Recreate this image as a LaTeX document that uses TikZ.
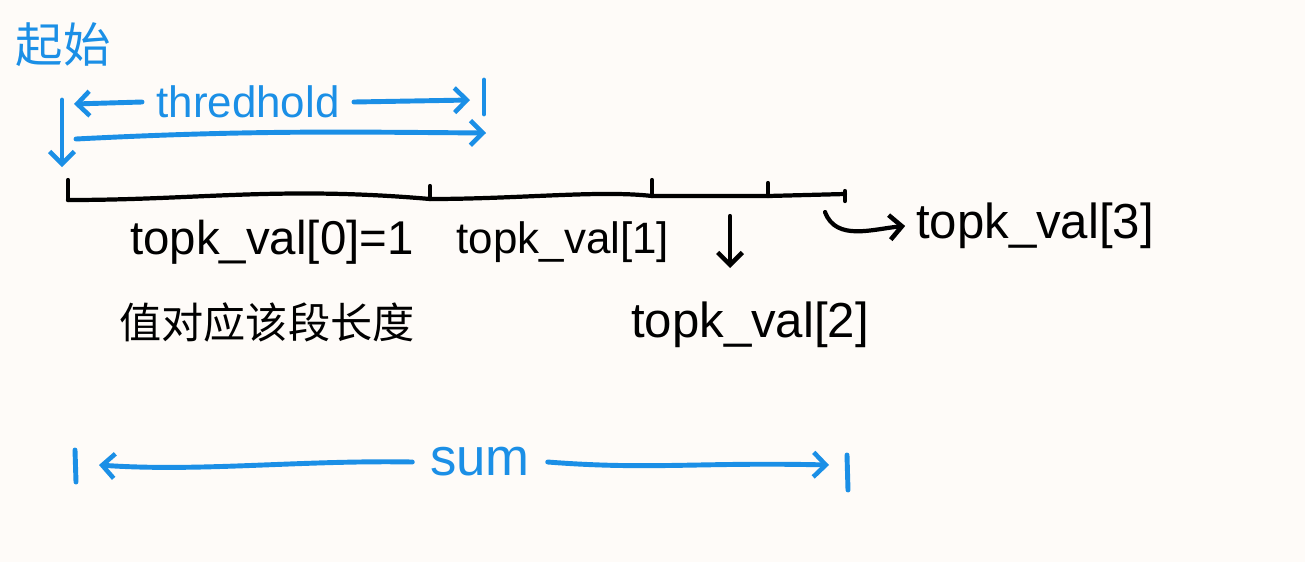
\documentclass[tikz,border=0pt]{standalone}
\usepackage{fontspec}
\setmainfont{Liberation Sans}
\newfontfamily\cjk{Noto Sans CJK SC}
\usetikzlibrary{arrows.meta}
\definecolor{penblue}{HTML}{1B8FE6}
\definecolor{paper}{HTML}{FEFBF8}
\begin{document}
\begin{tikzpicture}[
        x=0.02cm, y=-0.02cm,
        txt/.style={inner sep=0pt, font=\fontsize{25}{28}\selectfont},
        bluetxt/.style={txt, text=penblue},
        pen/.style={line width=2.4pt, line cap=round, line join=round},
        bluepen/.style={pen, draw=penblue, line width=2.8pt},
        tip/.style={-{Straight Barb[length=7pt, width=14pt, line width=2.6pt]}}
    ]
        % paper
        \fill[paper] (0,0) rectangle (1305,562);
        \useasboundingbox (0,0) rectangle (1305,562);

        % labels
        \node[bluetxt, font=\cjk\fontsize{27}{30}\selectfont] (start) at (63,45) {起始};
        \node[bluetxt] (thr) at (248,102) {thredhold};
        \node[txt, font=\fontsize{27}{30}\selectfont] (val0) at (272,242) {topk\_val[0]=1};
        \node[txt] (val1) at (563,242) {topk\_val[1]};
        \node[txt, font=\fontsize{28}{31}\selectfont] (val2) at (750,325) {topk\_val[2]};
        \node[txt, font=\fontsize{28}{31}\selectfont] (val3) at (1035,226) {topk\_val[3]};
        \node[txt, font=\cjk\fontsize{24}{27}\selectfont] (len) at (267,322) {值对应该段长度};
        \node[bluetxt, font=\fontsize{30}{33}\selectfont] (sum) at (480,462) {sum};

        % segment line and ticks
        \coordinate (t0) at (68,200);
        \coordinate (t1) at (430,199);
        \coordinate (t2) at (652,196);
        \coordinate (t3) at (768,196);
        \coordinate (t4) at (845,194);
        \draw[pen] (t0) .. controls (200,200) and (280,186) .. (t1)
            .. controls (520,199) and (600,190) .. (t2) -- (t3) -- (t4);
        \draw[pen] (t0) -- ++(0,-20);
        \draw[pen] (t1) -- ++(0,-13);
        \draw[pen] (t2) -- ++(0,-16);
        \draw[pen] (t3) -- ++(0,-13);
        \draw[pen] ([yshift=-4pt]t4) -- ++(0,-10);

        % start marker
        \coordinate (s0) at (62,100);
        \coordinate (s1) at (62,167);
        \draw[bluepen, tip] (s0) -- (s1);

        % thredhold span
        \coordinate (thL) at (74,104);
        \coordinate (thR) at (470,100);
        \coordinate (thB) at (484,80);
        \coordinate (thE) at (484,114);
        \draw[bluepen, tip] ([xshift=-8pt]thr.west) -- (thL);
        \draw[bluepen, tip] ([xshift=8pt]thr.east) -- (thR);
        \draw[bluepen] (thB) -- (thE);
        \coordinate (jL) at (76,139);
        \coordinate (jR) at (486,133);
        \draw[bluepen, tip] (jL) .. controls (250,130) and (350,132) .. (jR);

        % pointers to labels
        \coordinate (d1) at (730,216);
        \coordinate (d2) at (730,268);
        \draw[pen, tip] (d1) -- (d2);
        \coordinate (c3) at (825,212);
        \draw[pen, tip] (c3) to[out=-70, in=185] ([xshift=-6pt]val3.west);

        % sum span
        \coordinate (sL) at (99,465);
        \coordinate (sR) at (829,465);
        \coordinate (bA) at (75,450);
        \coordinate (bB) at (76,482);
        \coordinate (bC) at (847,455);
        \coordinate (bD) at (848,490);
        \draw[bluepen, tip] ([xshift=-10pt]sum.west) .. controls (300,460) and (200,472) .. (sL);
        \draw[bluepen, tip] ([xshift=10pt]sum.east) .. controls (650,470) and (700,462) .. (sR);
        \draw[bluepen] (bA) -- (bB);
        \draw[bluepen] (bC) -- (bD);
    \end{tikzpicture}
\end{document}
